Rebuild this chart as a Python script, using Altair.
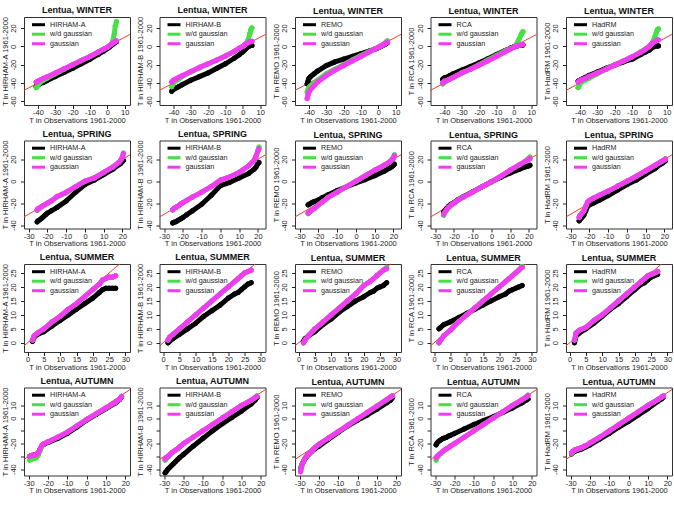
import altair as alt
import pandas as pd

FONT = "Liberation Sans"
RED = "#ee3b2b"

SEASONS = ["WINTER", "SPRING", "SUMMER", "AUTUMN"]
MODELS = ["HIRHAM-A", "HIRHAM-B", "REMO", "RCA", "HadRM"]
SERIES_COLORS = ["#000000", "#44e044", "#f23cf2"]

# Observed quantiles (x) per season, shared by every model panel
OBS_WINTER = [-41, -40.5, -40, -39, -37, -35, -30, -25, -20, -15, -10, -5, -2, 0, 1, 2, 3, 4, 4.5, 5.2]
OBS_SPRING = [-25.5, -25, -24, -23, -22, -21, -20, -18, -15, -10, -5, 0, 5, 10, 15, 18, 19, 20, 20.5]
OBS_SUMMER = [1.5, 2, 3, 5, 7.5, 10, 12.5, 15, 17.5, 20, 22, 23, 24, 25, 26, 27]
OBS_AUTUMN = [-29.5, -29, -28, -27, -26, -25, -24, -23, -22, -20, -15, -10, -5, 0, 5, 10, 15, 17, 18]

# Model quantiles: raw, w/d gaussian corrected, gaussian corrected
WINTER_HIRHAM_A = [-44, -43, -42, -41, -39.5, -37.5, -33, -28.5, -24, -19, -14, -8.5, -5, -2.5, -1, 0.5, 2, 3.5, 4.5, 5]
WINTER_HIRHAM_A_WD = [-45, -44, -42, -40, -37, -35, -30, -25, -20, -15.5, -11, -6, -3, -1, 0.5, 2, 5, 14, 22, 27]
WINTER_HIRHAM_A_GAUSS = [-39, -38.5, -38, -37, -35, -33.5, -29, -24.5, -20, -15.5, -11, -6, -3, -1, 0.5, 2, 3.5, 4.5, 5.5, 6]
WINTER_HIRHAM_B = [-49, -48, -47, -46, -44, -42, -37, -33, -29, -24, -19, -13, -9, -6, -4, -2, -0.5, 0.5, 1, 1]
WINTER_HIRHAM_B_WD = [-44, -42, -40, -38, -36, -33, -28, -23.5, -19, -15, -10.5, -5.5, -2, 0, 1.5, 3, 7, 14, 18, 20]
WINTER_HIRHAM_B_GAUSS = [-39, -38, -37, -36, -34, -32, -27.5, -23, -19, -15, -10.5, -5.5, -2, 0, 1.5, 3, 4, 5, 5, 5.5]
WINTER_REMO = [-41, -38, -35, -33, -30, -27, -21, -17, -14, -11, -8, -5, -3, -1.5, -0.5, 0.5, 1.5, 2.5, 3, 4]
WINTER_REMO_WD = [-50, -47, -45, -43, -40, -37, -30, -25, -20, -15, -10, -5.5, -2.5, -1, 0, 1, 2.5, 4, 5, 6]
WINTER_REMO_GAUSS = [-57, -53, -50, -47, -43, -39, -32, -26, -21, -16, -11, -6, -3, -1, 0, 1, 2, 3, 4, 4.5]
WINTER_RCA = [-36, -35, -34.5, -34, -32, -30, -26, -22, -18, -13.5, -9, -4.5, -2, -0.5, 0, 0.5, 1, 1, 1.5, 1.5]
WINTER_RCA_WD = [-41, -40, -39, -38, -36, -34, -29, -25, -20, -15, -10, -5, -2.5, -1, 1, 4, 8, 12, 14, 16]
WINTER_RCA_GAUSS = [-40, -39, -38, -37.5, -36, -34, -29, -25, -20.5, -16, -11, -6, -3, -1, 0, 0.5, 1, 1.5, 2, 2]
WINTER_HADRM = [-38, -37.5, -37, -36, -34, -32, -28, -24, -20.5, -17, -14, -9, -6, -4, -2.5, -1, 0, 0.5, 0.5, 0.5]
WINTER_HADRM_WD = [-45, -43, -41, -39, -37, -35, -30, -25, -20, -16, -11.5, -6, -2.5, 0, 2, 5, 10, 15, 18, 19]
WINTER_HADRM_GAUSS = [-39, -38, -37.5, -36.5, -35, -33, -29, -25, -20.5, -16, -11.5, -6.5, -3, 0, 2, 4, 5, 6, 6.5, 7]

SPRING_HIRHAM_A = [-37, -36, -35, -33.5, -32, -30.5, -29, -27, -24, -18, -10, -3, 1, 6, 11, 15, 16, 18, 19]
SPRING_HIRHAM_A_WD = [-26.5, -25.5, -24.5, -23, -22, -21, -20, -18, -14.5, -10.5, -5, 0, 3, 8, 13, 17, 19, 22, 25.5]
SPRING_HIRHAM_A_GAUSS = [-26, -25, -24, -23, -22, -21, -20, -18, -14, -10, -5, 0, 3, 8, 13, 17, 19, 22, 25]
SPRING_HIRHAM_B = [-38, -37.5, -37, -36, -35, -34, -33, -30.5, -27, -21, -13, -4, -1, 3, 7, 11, 13, 16, 17]
SPRING_HIRHAM_B_WD = [-26, -25, -24, -23, -22, -20.5, -19.5, -17.5, -14.5, -10, -5, 1, 4, 8, 14, 19, 23, 28, 31]
SPRING_HIRHAM_B_GAUSS = [-26, -25, -24, -23, -22, -20.5, -19.5, -17.5, -14.5, -10, -5, 1, 4, 8, 14, 19, 23, 27.5, 29.5]
SPRING_REMO = [-21.5, -21, -20, -19, -18.5, -18, -17, -15, -12.5, -8.5, -5, -1.5, 1.5, 5, 9, 12, 13, 14.5, 15.5]
SPRING_REMO_WD = [-29.5, -28.5, -27, -25.5, -24.5, -23, -21.5, -19, -15, -10, -5, 0, 5, 10, 14.5, 17.5, 19.5, 22, 24]
SPRING_REMO_GAUSS = [-29, -28, -27, -25.5, -24.5, -23, -21.5, -19, -15, -10, -5, 0, 5, 10, 14.5, 17.5, 19, 21, 23]
SPRING_RCA = [-28, -27, -25, -23, -21.5, -20.5, -19.5, -17, -14, -9.5, -5, -0.5, 3.5, 7.5, 11, 13, 13.5, 14, 14.5]
SPRING_RCA_WD = [-31, -29, -26.5, -24, -22.5, -21, -20, -17.5, -14.5, -10, -5, -0.5, 4.5, 10, 15, 18, 19.5, 21, 22]
SPRING_RCA_GAUSS = [-30, -28.5, -26, -24, -22.5, -21, -20, -17.5, -14.5, -10, -5, -0.5, 4.5, 10, 15, 18, 19, 20, 20.5]
SPRING_HADRM = [-36, -35, -33, -31, -27, -23, -21.5, -20, -17.5, -13, -8, -3, 1, 6.5, 11.5, 15.5, 16.5, 18, 18.5]
SPRING_HADRM_WD = [-33, -31, -29, -27, -23, -19, -17.5, -15.5, -13, -9, -4.5, 0, 4.5, 9.5, 14.5, 17.5, 18.5, 19.5, 20.5]
SPRING_HADRM_GAUSS = [-33, -31, -29, -27, -23, -19, -17.5, -15.5, -13, -9, -4.5, 0, 4.5, 9.5, 14.5, 17.5, 18.5, 19.5, 20]

SUMMER_HIRHAM_A = [0.5, 2, 3, 4, 6, 8, 10, 12, 14, 16, 18, 19, 19.5, 19.5, 19.5, 19.5]
SUMMER_HIRHAM_A_WD = [1, 2.5, 3.5, 5, 7.5, 9.5, 12, 14, 16.5, 19, 21, 22.5, 23, 23.5, 23.5, 24]
SUMMER_HIRHAM_A_GAUSS = [1, 2.5, 3.5, 5, 7.5, 9.5, 12, 14, 16.5, 19, 21, 22.5, 23, 23.5, 23.5, 24]
SUMMER_HIRHAM_B = [0, 0.5, 1.5, 3, 5, 7, 9.5, 11.5, 13.5, 16, 17.5, 18, 19, 20, 21, 21.5]
SUMMER_HIRHAM_B_WD = [1, 2, 3, 5, 7.5, 10, 12.5, 15, 17.5, 20, 22, 23, 24, 25, 25.5, 26]
SUMMER_HIRHAM_B_GAUSS = [1, 2, 3, 5, 7.5, 10, 12.5, 15, 17.5, 20, 22, 23, 24, 25, 25.5, 26]
SUMMER_REMO = [0.5, 1.5, 2.5, 4, 6.5, 8.5, 11, 13, 15, 16.5, 18, 18.5, 19.5, 20, 20.5, 21.5]
SUMMER_REMO_WD = [0, 1, 2.5, 5, 7.5, 10, 12.5, 15, 17.5, 20.5, 22, 23, 24, 25, 26, 27]
SUMMER_REMO_GAUSS = [0, 1, 2.5, 5, 7.5, 10, 12.5, 15, 17.5, 20.5, 22, 23, 24, 25, 26, 26.5]
SUMMER_RCA = [5, 5.5, 6.5, 7.5, 9, 10.5, 12, 13.5, 15, 16.5, 17.5, 18.5, 19, 19.5, 20, 20.5]
SUMMER_RCA_WD = [0, 1, 2.5, 4.5, 7.5, 10, 12.5, 15, 17.5, 20, 22, 23, 24, 25, 26, 27.5]
SUMMER_RCA_GAUSS = [0, 1, 2.5, 4.5, 7.5, 10, 12.5, 15, 17.5, 20, 22, 23, 24, 25, 26, 27]
SUMMER_HADRM = [0, 2.5, 3.5, 5, 7, 9.5, 12, 14, 16.5, 19, 21, 21.5, 22.5, 23.5, 24, 24.5]
SUMMER_HADRM_WD = [1, 3.5, 4.5, 5.5, 8, 10, 12.5, 15, 17.5, 20, 22, 23, 24, 24.5, 25, 25.5]
SUMMER_HADRM_GAUSS = [1, 3.5, 4.5, 5.5, 8, 10, 12.5, 15, 17.5, 20, 22, 23, 24, 24.5, 25, 25.5]

AUTUMN_HIRHAM_A = [-30, -30, -29.5, -29, -29, -27.5, -24, -21.5, -20.5, -19, -16, -12, -7, -1.5, 3, 7.5, 12, 14.5, 16.5]
AUTUMN_HIRHAM_A_WD = [-33, -32.5, -32, -31.5, -31, -29, -25, -21.5, -20, -18.5, -15, -11, -6, -1, 3.5, 8, 12.5, 15, 17]
AUTUMN_HIRHAM_A_GAUSS = [-30, -29.5, -29, -29, -28.5, -27, -24, -21, -20, -18.5, -15, -11, -6, -1, 3.5, 8, 12.5, 15, 17]
AUTUMN_HIRHAM_B = [-43, -42, -40, -38.5, -37, -35.5, -34, -32.5, -31, -28.5, -22, -16, -10, -4.5, 0.5, 5.5, 11, 14, 16]
AUTUMN_HIRHAM_B_WD = [-33, -32, -30.5, -29, -27.5, -26, -25, -24, -22.5, -20, -15, -10, -5, 0, 5, 10, 14, 16, 17.5]
AUTUMN_HIRHAM_B_GAUSS = [-32, -31, -30, -28.5, -27, -26, -25, -24, -22.5, -20, -15, -10, -5, 0, 5, 10, 14, 16, 17]
AUTUMN_REMO = [-40, -37, -34, -31.5, -29.5, -28, -26.5, -25, -24, -22, -16.5, -11, -6, -1.5, 2.5, 7, 12, 14, 16]
AUTUMN_REMO_WD = [-41, -37.5, -33.5, -31, -29, -27.5, -26, -24.5, -23, -20.5, -15.5, -10.5, -5.5, -0.5, 4.5, 9.5, 14.5, 16.5, 17.5]
AUTUMN_REMO_GAUSS = [-42, -38, -34, -31, -29, -27.5, -26, -24.5, -23, -20.5, -15.5, -10.5, -5.5, -0.5, 4.5, 9.5, 14.5, 16.5, 17.5]
AUTUMN_RCA = [-21, -19.5, -18, -17, -16, -15.5, -15, -14, -13.5, -12, -8.5, -5, -2, 1, 4.5, 8, 12, 14, 15]
AUTUMN_RCA_WD = [-33, -31, -29, -27.5, -26, -25, -24, -23, -22, -20, -15, -10, -5, 0, 5, 10, 14.5, 16.5, 18]
AUTUMN_RCA_GAUSS = [-31, -30, -28.5, -27.5, -26, -25, -24, -23, -22, -20, -15, -10, -5, 0, 5, 10, 14.5, 16.5, 17.5]
AUTUMN_HADRM = [-28, -27, -26, -25.5, -25, -24.5, -24, -23, -22.5, -21, -16.5, -12, -7, -2.5, 2.5, 7.5, 13, 15, 16.5]
AUTUMN_HADRM_WD = [-27.5, -26.5, -25.5, -24.5, -24, -23.5, -23, -22, -21.5, -19.5, -15, -10, -5, 0, 5, 10, 14.5, 16.5, 17.5]
AUTUMN_HADRM_GAUSS = [-27, -26, -25, -24.5, -24, -23.5, -23, -22, -21.5, -19.5, -15, -10, -5, 0, 5, 10, 14.5, 16.5, 17.5]

OBS = {"WINTER": OBS_WINTER, "SPRING": OBS_SPRING, "SUMMER": OBS_SUMMER, "AUTUMN": OBS_AUTUMN}
QUANTILES = {
    ("WINTER", "HIRHAM-A"): (WINTER_HIRHAM_A, WINTER_HIRHAM_A_WD, WINTER_HIRHAM_A_GAUSS),
    ("WINTER", "HIRHAM-B"): (WINTER_HIRHAM_B, WINTER_HIRHAM_B_WD, WINTER_HIRHAM_B_GAUSS),
    ("WINTER", "REMO"): (WINTER_REMO, WINTER_REMO_WD, WINTER_REMO_GAUSS),
    ("WINTER", "RCA"): (WINTER_RCA, WINTER_RCA_WD, WINTER_RCA_GAUSS),
    ("WINTER", "HadRM"): (WINTER_HADRM, WINTER_HADRM_WD, WINTER_HADRM_GAUSS),
    ("SPRING", "HIRHAM-A"): (SPRING_HIRHAM_A, SPRING_HIRHAM_A_WD, SPRING_HIRHAM_A_GAUSS),
    ("SPRING", "HIRHAM-B"): (SPRING_HIRHAM_B, SPRING_HIRHAM_B_WD, SPRING_HIRHAM_B_GAUSS),
    ("SPRING", "REMO"): (SPRING_REMO, SPRING_REMO_WD, SPRING_REMO_GAUSS),
    ("SPRING", "RCA"): (SPRING_RCA, SPRING_RCA_WD, SPRING_RCA_GAUSS),
    ("SPRING", "HadRM"): (SPRING_HADRM, SPRING_HADRM_WD, SPRING_HADRM_GAUSS),
    ("SUMMER", "HIRHAM-A"): (SUMMER_HIRHAM_A, SUMMER_HIRHAM_A_WD, SUMMER_HIRHAM_A_GAUSS),
    ("SUMMER", "HIRHAM-B"): (SUMMER_HIRHAM_B, SUMMER_HIRHAM_B_WD, SUMMER_HIRHAM_B_GAUSS),
    ("SUMMER", "REMO"): (SUMMER_REMO, SUMMER_REMO_WD, SUMMER_REMO_GAUSS),
    ("SUMMER", "RCA"): (SUMMER_RCA, SUMMER_RCA_WD, SUMMER_RCA_GAUSS),
    ("SUMMER", "HadRM"): (SUMMER_HADRM, SUMMER_HADRM_WD, SUMMER_HADRM_GAUSS),
    ("AUTUMN", "HIRHAM-A"): (AUTUMN_HIRHAM_A, AUTUMN_HIRHAM_A_WD, AUTUMN_HIRHAM_A_GAUSS),
    ("AUTUMN", "HIRHAM-B"): (AUTUMN_HIRHAM_B, AUTUMN_HIRHAM_B_WD, AUTUMN_HIRHAM_B_GAUSS),
    ("AUTUMN", "REMO"): (AUTUMN_REMO, AUTUMN_REMO_WD, AUTUMN_REMO_GAUSS),
    ("AUTUMN", "RCA"): (AUTUMN_RCA, AUTUMN_RCA_WD, AUTUMN_RCA_GAUSS),
    ("AUTUMN", "HadRM"): (AUTUMN_HADRM, AUTUMN_HADRM_WD, AUTUMN_HADRM_GAUSS),
}

# Axis ranges and ticks for each season row
AXES = {
    "WINTER": dict(x=[-48, 13], xt=[-40, -30, -20, -10, 0, 10], y=[-64, 32], yt=[-60, -40, -20, 0, 20], skip=[]),
    "SPRING": dict(x=[-32.5, 24], xt=[-30, -20, -10, 0, 10, 20], y=[-43, 37], yt=[-40, -20, 0, 20], skip=[]),
    "SUMMER": dict(x=[-1.1, 31.4], xt=[0, 5, 10, 15, 20, 25, 30], y=[-3.3, 28.2], yt=[0, 5, 10, 15, 20, 25], skip=[]),
    "AUTUMN": dict(x=[-32.4, 22.4], xt=[-30, -20, -10, 0, 10, 20], y=[-45, 24], yt=[-40, -30, -20, -10, 0, 10], skip=[-30, -10]),
}

PANEL_W, PANEL_H = 106, 88
KEY = pd.DataFrame({"k": [0]})


def label_expr(skip):
    if skip:
        return "indexof(%s, datum.value) >= 0 ? '' : '' + datum.value" % str(skip)
    return "'' + datum.value"


def key_entry(i, label):
    # one row of the in-panel key: a short thick stroke and its label
    ypos = 7.7 + 9.5 * i
    stroke = alt.Chart(KEY).mark_rule(color=SERIES_COLORS[i], strokeWidth=3).encode(
        x=alt.value(8), x2=alt.value(21), y=alt.value(ypos)
    )
    text = alt.Chart(KEY).mark_text(
        align="left", baseline="middle", font=FONT, fontSize=7.2, color="#222"
    ).encode(x=alt.value(26), y=alt.value(ypos), text=alt.value(label))
    return [stroke, text]


def panel(season, model):
    ax = AXES[season]
    obs = OBS[season]
    labels = [model, "w/d gaussian", "gaussian"]
    xs = alt.Scale(domain=ax["x"], nice=False, zero=False)
    ys = alt.Scale(domain=ax["y"], nice=False, zero=False)
    xaxis = alt.Axis(
        values=ax["xt"], title="T in Observations 1961-2000", labelExpr=label_expr([]),
        labelOverlap=False, labelFlush=False, tickSize=3.5, labelPadding=0, titlePadding=0,
    )
    yaxis = alt.Axis(
        values=ax["yt"], title=f"T in {model} 1961-2000", labelExpr=label_expr(ax["skip"]),
        labelOverlap=False, labelFlush=False, labelAngle=270, labelAlign="center",
        labelBaseline="bottom", tickSize=3.5, labelPadding=3, titlePadding=0.5,
    )
    enc_x = alt.X("obs:Q", scale=xs, axis=xaxis)
    enc_y = alt.Y("val:Q", scale=ys, axis=yaxis)

    # 1:1 reference line
    ident = alt.Chart(pd.DataFrame({"obs": [-100, 100], "val": [-100, 100]})).mark_line(
        color=RED, strokeWidth=1, clip=True
    ).encode(x=enc_x, y=enc_y)

    layers = [ident]
    for i, (lab, vals) in enumerate(zip(labels, QUANTILES[(season, model)])):
        base = alt.Chart(pd.DataFrame({"obs": obs, "val": vals, "series": lab}))
        line = base.mark_line(
            strokeWidth=5, strokeCap="round", strokeJoin="round", clip=True, color=SERIES_COLORS[i]
        ).encode(x=enc_x, y=enc_y)
        pts = base.mark_point(
            filled=False, size=20, strokeWidth=1, clip=True, color=SERIES_COLORS[i], opacity=1
        ).encode(x=enc_x, y=enc_y)
        layers += [line, pts]

    for i, lab in enumerate(labels):
        layers += key_entry(i, lab)

    return alt.layer(*layers).properties(
        width=PANEL_W, height=PANEL_H,
        title=alt.TitleParams(f"Lentua, {season}", font=FONT, fontSize=9, fontWeight="bold",
                              color="#111", offset=1, anchor="middle", frame="group"),
    )


rows = [alt.hconcat(*[panel(s, m) for m in MODELS], spacing=29.5, bounds="flush") for s in SEASONS]

chart = (
    alt.vconcat(*rows, spacing=4.5)
    .properties(padding={"left": 0, "top": 5, "right": 0, "bottom": 0})
    .configure_view(stroke="#333", strokeWidth=1)
    .configure_axis(
        labelFont=FONT, titleFont=FONT, labelFontSize=7.5, titleFontSize=7.5,
        labelColor="#222", titleColor="#222", tickColor="#222", domain=False, grid=False,
        titleFontWeight="normal",
    )
)

chart.save("out.html", embed_options={"renderer": "svg", "actions": False})
